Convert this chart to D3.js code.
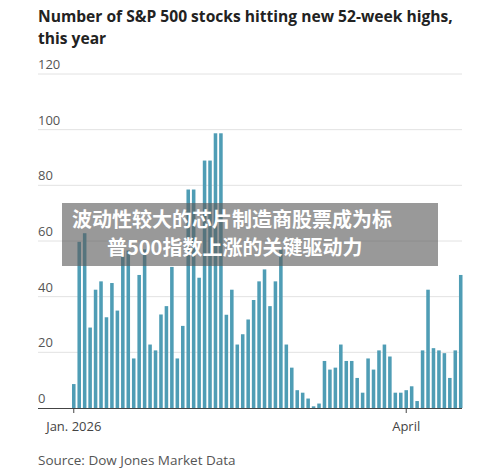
<!DOCTYPE html><html><head><meta charset="utf-8">
<script src="https://cdn.jsdelivr.net/npm/d3@7"></script>
<style>body{margin:0;background:#fff}svg{display:block}</style></head><body>
<script>
const values=[8.6,59.7,62.8,28.9,42.5,45.5,32.6,44.9,35,56.6,56.6,17.8,47.8,57,22.8,20.7,33.6,36.6,50.7,17.8,29.5,78.5,78.5,46.8,88.9,88.9,98.7,98.7,33.5,42.5,22.8,26.5,31.8,38.8,45.5,49.8,36.6,45.5,57,22.8,14.5,6.4,5.5,3.4,0.6,1.6,16.9,13.8,14.5,22.8,16.9,16.9,10.8,5.5,17.8,13.8,20.7,22.8,18.5,5.5,5.5,6.4,7.8,2.5,20.7,42.5,21.5,20.7,19.7,10.8,20.7,47.8];
const yTicks=[0,20,40,60,80,100,120];
const xTickIdx=[0,61];
const xTickLabels=["Jan. 2026","April"];
const title=["Number of S&P 500 stocks hitting new 52-week highs,","this year"];
const banner=["波动性较大的芯片制造商股票成为标","普500指数上涨的关键驱动力"];
const W=500,H=472;
const svg=d3.select("body").append("svg").attr("width",W).attr("height",H).style("font-family","'Open Sans',sans-serif");
const y=d3.scaleLinear().domain([0,120]).range([408,74]);
const x=d3.scaleBand().domain(d3.range(values.length)).range([72,462.5]).paddingInner(0.35).paddingOuter(0);
svg.selectAll(".t").data(title).join("text").attr("x",38).attr("y",(d,i)=>22+i*22).attr("font-size",15.6).attr("font-weight",700).attr("fill","#222").text(d=>d);
svg.selectAll(".g").data(yTicks.filter(d=>d>0)).join("line").attr("x1",38).attr("x2",462).attr("y1",d=>y(d)).attr("y2",d=>y(d)).attr("stroke","#e2e2e2");
svg.selectAll(".yl").data(yTicks).join("text").attr("x",38).attr("y",d=>y(d)-5).attr("font-size",13).attr("fill","#555").text(d=>d);
svg.selectAll(".b").data(values).join("rect").attr("x",(d,i)=>x(i)).attr("width",x.bandwidth()).attr("y",d=>y(d)).attr("height",d=>y(0)-y(d)).attr("fill","#4f9db5");
svg.append("line").attr("x1",38).attr("x2",462).attr("y1",408.5).attr("y2",408.5).attr("stroke","#444");
xTickIdx.forEach((k,i)=>{const cx=x(k)+x.bandwidth()/2;
 svg.append("line").attr("x1",cx).attr("x2",cx).attr("y1",408).attr("y2",413).attr("stroke","#444");
 svg.append("text").attr("x",cx).attr("y",431).attr("text-anchor","middle").attr("font-size",13).attr("fill","#444").text(xTickLabels[i]);});
svg.append("text").attr("x",38).attr("y",465).attr("font-size",13.5).attr("fill","#555").text("Source: Dow Jones Market Data");
svg.append("rect").attr("x",62).attr("y",203).attr("width",376).attr("height",63).attr("fill","rgba(90,90,90,0.62)");
svg.selectAll(".bn").data(banner).join("text").attr("x",(d,i)=>i?107:72).attr("y",(d,i)=>227+i*28).attr("font-size",20).attr("font-weight",700).attr("fill","#fff").style("font-family","'Noto Sans CJK SC',sans-serif").text(d=>d);
</script></body></html>
